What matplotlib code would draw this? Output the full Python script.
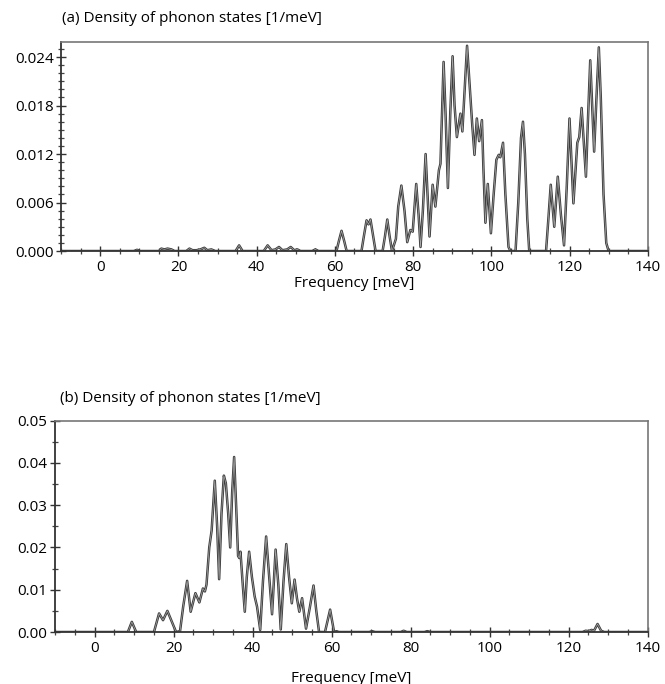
import matplotlib
matplotlib.use("Agg")
import matplotlib.pyplot as plt
from matplotlib.ticker import MultipleLocator, FormatStrFormatter
from matplotlib import font_manager

# ---------------- data ----------------
freq_a = [-10, 8.6, 9.4, 10.2, 15.0, 15.6, 16.4, 17.2, 18.2, 19.0, 22.0, 22.8, 23.6, 24.6, 25.6,
          26.6, 27.4, 28.4, 29.4, 34.6, 35.5, 36.4, 41.8, 42.8, 43.8, 44.8, 45.7, 46.6, 47.8,
          48.7, 49.6, 50.4, 51.2, 54.2, 55.0, 55.8, 60.4, 61.0, 61.7, 62.4, 63.0, 66.8, 67.4,
          68.1, 68.6, 69.1, 69.8, 70.4, 72.2, 72.8, 73.4, 74.0, 74.6, 75.6, 76.2, 77.0, 77.8,
          78.5, 79.3, 79.9, 80.8, 81.4, 81.9, 82.5, 83.2, 83.8, 84.2, 85.0, 85.7, 86.6, 87.0,
          87.4, 87.8, 88.3, 88.9, 89.5, 90.1, 90.6, 91.2, 92.1, 92.6, 93.2, 93.8, 94.4, 95.1,
          95.7, 96.3, 96.9, 97.6, 98.0, 98.5, 99.1, 99.9, 100.6, 101.3, 101.9, 102.3, 103.0,
          103.6, 104.4, 104.9, 106.2, 106.9, 107.6, 108.1, 108.6, 109.2, 109.7, 114.0, 114.6,
          115.2, 116.1, 117.0, 117.8, 118.6, 119.3, 120.0, 121.0, 122.0, 122.5, 123.1, 124.2,
          124.7, 125.3, 126.3, 126.9, 127.5, 128.0, 128.7, 129.4, 130.0, 140]
dos_a = [0, 0, 0.00015, 0, 0, 0.0003, 0.0002, 0.0003, 0.0002, 0, 0, 0.0003, 0.0001, 0.0001, 0.0002,
         0.0004, 0.0001, 0.0002, 0, 0, 0.0007, 0, 0, 0.0007, 0.0001, 0.0002, 0.0005, 0.0001, 0.0002,
         0.0005, 0.0001, 0.0002, 0, 0, 0.0002, 0, 0, 0.0012, 0.0025, 0.0012, 0, 0, 0.0018,
         0.0038, 0.0033, 0.0039, 0.0018, 0, 0, 0.0018, 0.0039, 0.0018, 0, 0.0015, 0.0055, 0.0081, 0.0050,
         0.0011, 0.0026, 0.0024, 0.0083, 0.0045, 0.0005, 0.0050, 0.0120, 0.0060, 0.0018, 0.0082, 0.0055, 0.0100, 0.0108,
         0.0170, 0.0234, 0.0170, 0.0078, 0.0170, 0.0241, 0.0180, 0.0141, 0.0170, 0.0148, 0.0200, 0.0254, 0.0210, 0.0158,
         0.0119, 0.0164, 0.0136, 0.0162, 0.0100, 0.0035, 0.0083, 0.0022, 0.0070, 0.0113, 0.0119, 0.0116, 0.0134,
         0.0070, 0.0005, 0, 0, 0.0060, 0.0140, 0.0160, 0.0120, 0.0040, 0, 0, 0.0040,
         0.0082, 0.0030, 0.0092, 0.0045, 0.0007, 0.0080, 0.0164, 0.0059, 0.0134, 0.0141, 0.0177, 0.0092,
         0.0160, 0.0236, 0.0123, 0.0190, 0.0252, 0.0190, 0.0070, 0.0010, 0, 0]

freq_b = [-10, 8.4, 9.4, 10.5, 15.0, 16.3, 17.3, 18.4, 19.5, 20.6, 21.6, 22.4, 23.4, 24.3, 25.5,
          26.5, 27.4, 27.9, 28.3, 29.0, 29.6, 30.4, 31.0, 31.5, 32.1, 32.7, 33.2, 33.8, 34.3,
          34.8, 35.3, 35.8, 36.3, 36.6, 36.9, 37.5, 38.0, 38.5, 39.1, 39.8, 40.5, 41.1, 41.9,
          42.6, 43.4, 44.1, 44.9, 45.8, 46.5, 47.1, 47.8, 48.5, 49.2, 49.9, 50.6, 51.2, 51.8,
          52.5, 53.5, 54.5, 55.4, 56.1, 56.8, 58.3, 59.6, 60.6, 61.2, 61.8, 69.5, 70.2, 71.0,
          77.5, 78.2, 79.0, 83.5, 84.2, 85.0, 123.5, 124.3, 125.0, 125.8, 126.4, 127.3, 128.2,
          129.0, 140]
dos_b = [0, 0, 0.0024, 0, 0, 0.0044, 0.0028, 0.0050, 0.0025, 0, 0.0002, 0.0060, 0.0121, 0.0048, 0.0092,
         0.0070, 0.0103, 0.0096, 0.0112, 0.0200, 0.0240, 0.0358, 0.0250, 0.0125, 0.0280, 0.0370, 0.0352, 0.0280, 0.0200,
         0.0330, 0.0414, 0.0300, 0.0180, 0.0175, 0.0190, 0.0110, 0.0048, 0.0130, 0.0190, 0.0130, 0.0084, 0.0060, 0.0005,
         0.0120, 0.0226, 0.0140, 0.0042, 0.0195, 0.0110, 0.0006, 0.0120, 0.0208, 0.0130, 0.0068, 0.0124, 0.0080, 0.0048,
         0.0080, 0.0008, 0.0060, 0.0110, 0.0050, 0, 0, 0.0053, 0, 0.0002, 0, 0, 0.0002, 0,
         0, 0.0003, 0, 0, 0.0002, 0, 0, 0.0003, 0.0002, 0.0005, 0.0003, 0.0019, 0.0003,
         0, 0]

title_a = "(a) Density of phonon states [1/meV]"
title_b = "(b) Density of phonon states [1/meV]"
xlabel = "Frequency [meV]"
yticks_a = [0.000, 0.006, 0.012, 0.018, 0.024]
yticks_b = [0.00, 0.01, 0.02, 0.03, 0.04, 0.05]
xticks = [0, 20, 40, 60, 80, 100, 120, 140]

# ---------------- style ----------------
names = {f.name for f in font_manager.fontManager.ttflist}
fam = [n for n in ["Liberation Sans Narrow", "Open Sans", "DejaVu Sans"] if n in names]
plt.rcParams['font.family'] = fam
plt.rcParams['font.size'] = 10

fig = plt.figure(figsize=(6.65, 6.84), dpi=100)
ax_a = fig.add_axes([0.092, 0.633, 0.882, 0.306])
ax_b = fig.add_axes([0.083, 0.076, 0.891, 0.309])


def style(ax, ymax, yticks, yminor, fmt, lpad):
    ax.set_xlim(-10, 140)
    ax.set_ylim(0, ymax)
    ax.set_xticks(xticks)
    ax.xaxis.set_minor_locator(MultipleLocator(5))
    ax.set_yticks(yticks)
    ax.yaxis.set_minor_locator(MultipleLocator(yminor))
    ax.yaxis.set_major_formatter(FormatStrFormatter(fmt))
    ax.tick_params(which='major', direction='inout', length=7, width=1.0, color='#333',
                   labelsize=11, pad=2)
    ax.tick_params(which='minor', direction='inout', length=4, width=0.9, color='#444')
    ax.tick_params(axis='x', pad=3)
    for s in ['left', 'bottom']:
        ax.spines[s].set_color('#333')
        ax.spines[s].set_linewidth(1.3)
    for s in ['top', 'right']:
        ax.spines[s].set_color('#777')
        ax.spines[s].set_linewidth(1.2)
    ax.set_xlabel(xlabel, fontsize=11, labelpad=lpad)


ax_a.plot(freq_a, dos_a, color='#3c3c3c', lw=1.8, solid_joinstyle='round')
ax_a.plot(freq_a, dos_a, color='#a8a8a8', lw=0.5, solid_joinstyle='round')
style(ax_a, 0.0259, yticks_a, 0.001, '%.3f', 1)

ax_b.plot(freq_b, dos_b, color='#3c3c3c', lw=1.8, solid_joinstyle='round')
ax_b.plot(freq_b, dos_b, color='#a8a8a8', lw=0.5, solid_joinstyle='round')
style(ax_b, 0.05, yticks_b, 0.005, '%.2f', 11)

fig.text(62 / 665, 1 - 18 / 684, title_a, fontsize=11, ha='left', va='center')
fig.text(60 / 665, 1 - 399 / 684, title_b, fontsize=11, ha='left', va='center')

fig.savefig("out.png", dpi=100)
